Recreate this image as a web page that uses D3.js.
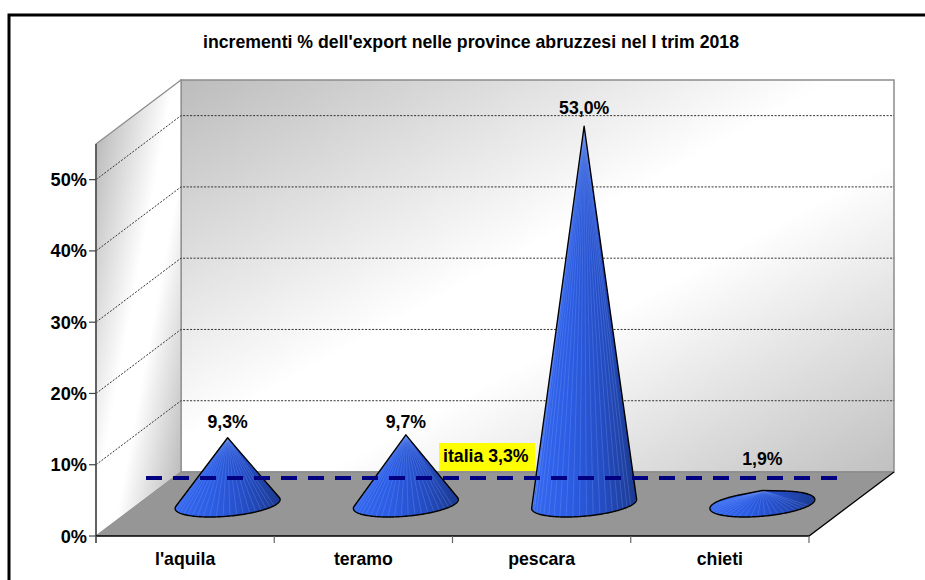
<!DOCTYPE html>
<html><head><meta charset="utf-8">
<script src="https://cdn.jsdelivr.net/npm/d3@7"></script>
<style>html,body{margin:0;padding:0;background:#fff}svg{display:block}text{font-family:"Liberation Sans",Arial,sans-serif;font-weight:bold;fill:#000}</style>
</head><body><svg id="c" width="925" height="580"></svg>
<script>
const chartTitle = "incrementi % dell'export nelle province abruzzesi nel I trim 2018";
const categories = ["l'aquila", "teramo", "pescara", "chieti"];
const increments = [9.3, 9.7, 53.0, 1.9];
const valueLabels = ["9,3%", "9,7%", "53,0%", "1,9%"];
const yTicks = [0, 10, 20, 30, 40, 50];
const italiaValue = 3.3;
const italiaLabel = "italia 3,3%";

const W = 925, H = 580, fs = "17.7px";
const left = 96, right = 809, y0 = 536, yTop = 144, yMax = 55;
const dx = 85, dy = -64;
const labelLift = [10, 7, 12, 25];
const svg = d3.select("#c");
const defs = svg.append("defs");
const y = d3.scaleLinear().domain([0, yMax]).range([y0, yTop]);
const x = d3.scaleBand().domain(categories).range([left, right]);
const line = d3.line();

function grad(id, x1, y1, x2, y2, stops) {
  const g = defs.append("linearGradient").attr("id", id)
    .attr("x1", x1).attr("y1", y1).attr("x2", x2).attr("y2", y2);
  stops.forEach(s => g.append("stop").attr("offset", s[0]).attr("stop-color", s[1]));
}
grad("back", 0, 0, 1, 1, [[0, "#bcbcbc"], [.46, "#ffffff"], [.6, "#ffffff"], [1, "#c0c0c0"]]);
grad("side", 0, 0, 1, 1, [[.05, "#b8b8b8"], [.46, "#ffffff"], [.6, "#ffffff"], [.95, "#b8b8b8"]]);
grad("cone", 0, 0, 1, 0, [[0, "#3568f0"], [.35, "#2c5de4"], [.65, "#254ec6"], [1, "#1c3a90"]]);

// frame (runs off the picture on the right and bottom)
svg.append("path").attr("d", line([[9, H], [9, 15], [W, 15]])).attr("fill", "none").attr("stroke", "#000").attr("stroke-width", 3);

svg.append("text").attr("x", 471).attr("y", 47.5).attr("text-anchor", "middle").style("font-size", fs).text(chartTitle);

// walls
const backTop = y(yMax) + dy, backBase = y0 + dy;
svg.append("path").attr("d", line([[left + dx, backTop], [right + dx, backTop], [right + dx, backBase], [left + dx, backBase]]) + "Z")
  .attr("fill", "url(#back)").attr("stroke", "#8c8c8c").attr("stroke-width", 1.5);
svg.append("path").attr("d", line([[left, y(yMax)], [left + dx, backTop], [left + dx, backBase], [left, y0]]) + "Z")
  .attr("fill", "url(#side)").attr("stroke", "#8c8c8c").attr("stroke-width", 1.2);
svg.append("path").attr("d", line([[left, y0], [left + dx, backBase], [right + dx, backBase], [right, y0]]) + "Z").attr("fill", "#969696");
svg.append("path").attr("d", line([[left + dx, backBase], [right + dx, backBase]])).attr("stroke", "#8c8c8c").attr("stroke-width", 1.5);

// gridlines
const grid = svg.append("g").attr("fill", "none").attr("stroke", "#333").attr("stroke-width", 1).attr("stroke-dasharray", "2 1.5");
yTicks.filter(t => t > 0).forEach(t => {
  grid.append("path").attr("d", line([[left, y(t)], [left + dx, y(t) + dy], [right + dx, y(t) + dy]]));
});

// axes
svg.append("path").attr("d", line([[left, yTop], [left, y0 + 7]])).attr("stroke", "#595959").attr("stroke-width", 1.8).attr("fill", "none");
svg.append("path").attr("d", line([[left, y0], [right, y0], [right + dx, backBase]])).attr("stroke", "#000").attr("stroke-width", 1.3).attr("fill", "none");
yTicks.forEach(t => {
  svg.append("line").attr("x1", left - 7).attr("x2", left).attr("y1", y(t)).attr("y2", y(t)).attr("stroke", "#444").attr("stroke-width", 1.2);
  svg.append("text").attr("x", left - 9).attr("y", y(t) + 6.5).attr("text-anchor", "end").style("font-size", "18.2px").text(t + "%");
});
const catEdges = categories.map(c => x(c)).concat([right]);
catEdges.forEach(e => svg.append("line").attr("x1", e).attr("x2", e).attr("y1", y0).attr("y2", y0 + 7).attr("stroke", "#666").attr("stroke-width", 1.2));
categories.forEach(c => svg.append("text").attr("x", x(c) + x.bandwidth() / 2).attr("y", 565).attr("text-anchor", "middle").style("font-size", fs).text(c));

// cones
const baseLift = 32, a = 49.3, b = 18, c_ = 13;
const baseY = y0 - baseLift;
const rim = (cx, t) => [cx + a * Math.cos(t) + b * Math.sin(t), baseY - c_ * Math.sin(t)];
categories.forEach((c, i) => {
  const cx = x(c) + x.bandwidth() / 2 + dx / 2;
  const apex = [cx, y(increments[i]) - baseLift];
  const ts = d3.range(0, 2 * Math.PI, Math.PI / 90);
  const pts = ts.map(t => rim(cx, t));
  const hull = d3.polygonHull(pts.concat([apex]));
  const g = svg.append("g");
  const clipId = "clip" + i;
  defs.append("clipPath").attr("id", clipId).append("path").attr("d", line(hull) + "Z");
  g.append("path").attr("d", line(hull) + "Z").attr("fill", "url(#cone)");
  const ribs = g.append("g").attr("clip-path", `url(#${clipId})`);
  d3.range(Math.PI, 2 * Math.PI, Math.PI / 24).forEach(t => {
    const p = rim(cx, t);
    ribs.append("line").attr("x1", apex[0]).attr("y1", apex[1]).attr("x2", p[0]).attr("y2", p[1])
      .attr("stroke", "#8fb0ff").attr("stroke-opacity", .3).attr("stroke-width", .8);
  });
  g.append("path").attr("d", line(hull) + "Z").attr("fill", "none").attr("stroke", "#000").attr("stroke-width", 1.4).attr("stroke-linejoin", "round");
  svg.append("text").attr("x", cx).attr("y", apex[1] - labelLift[i]).attr("text-anchor", "middle").style("font-size", fs).text(valueLabels[i]);
});

// italia annotation
const italiaY = y(italiaValue) - 34.5;
svg.append("line").attr("x1", 146).attr("x2", 838).attr("y1", italiaY).attr("y2", italiaY)
  .attr("stroke", "#000080").attr("stroke-width", 4).attr("stroke-dasharray", "16 11");
svg.append("rect").attr("x", 439).attr("y", 443).attr("width", 96).attr("height", 28).attr("fill", "#ffff00");
svg.append("text").attr("x", 443).attr("y", 461.5).style("font-size", fs).text(italiaLabel);
</script></body></html>
